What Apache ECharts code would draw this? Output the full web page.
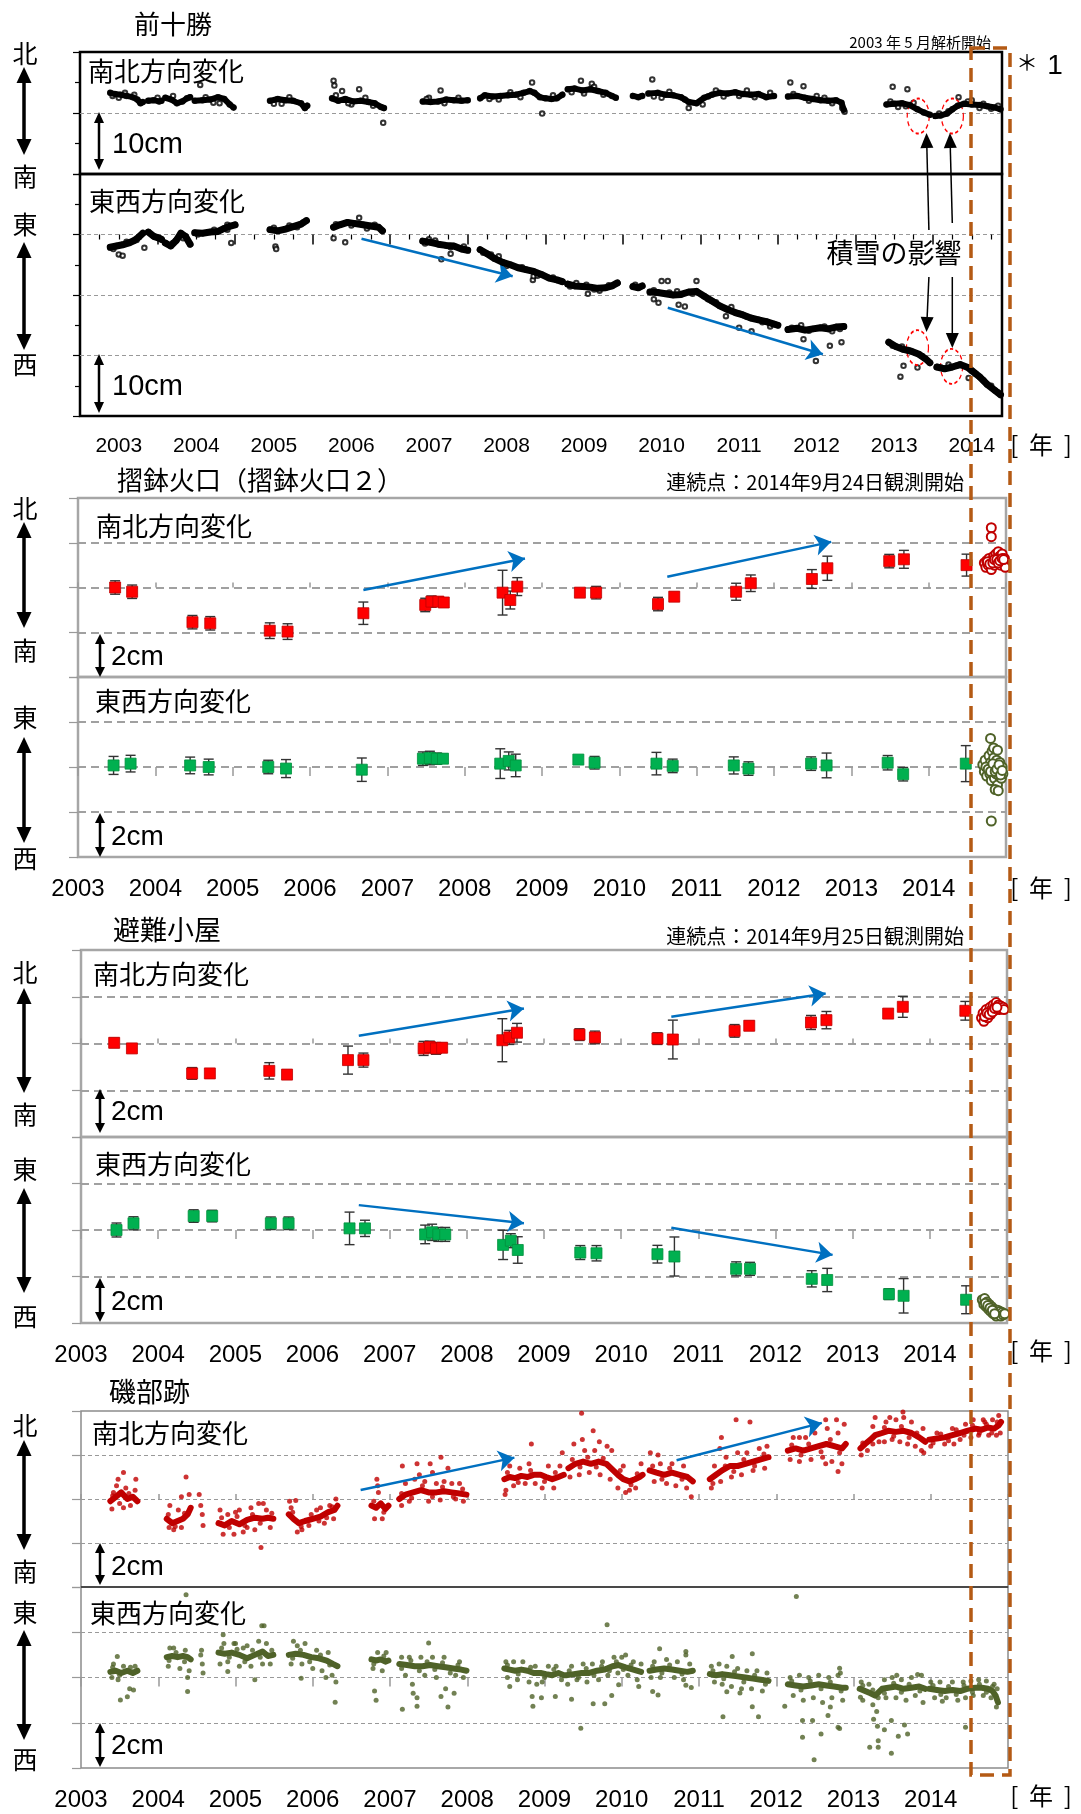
<!DOCTYPE html>
<html>
<head>
<meta charset="utf-8">
<script src="https://cdn.jsdelivr.net/npm/echarts@6/dist/echarts.min.js"></script>
<style>
  html, body { margin: 0; padding: 0; background: #fff; }
  #main { width: 1081px; height: 1814px; }
</style>
</head>
<body>
<div id="main"></div>
<script>
// ---- data (cm, decimal year) ----
const years = [2003, 2004, 2005, 2006, 2007, 2008, 2009, 2010, 2011, 2012, 2013, 2014];
const midYears = [2003.5, 2004.5, 2005.5, 2006.5, 2007.5, 2008.5, 2009.5, 2010.5, 2011.5, 2012.5, 2013.5, 2014.5];

// 前十勝 南北 (band segments + scattered points)
const maeNsCore = [
  [[2003.39,3.3],[2003.45,3.1],[2003.52,3.0],[2003.6,2.8],[2003.68,2.6],[2003.74,2.2],[2003.78,1.6],[2003.81,1.8]],
  [[2003.88,2.0],[2003.95,2.1],[2004.02,1.9],[2004.05,2.0]],
  [[2004.10,2.5],[2004.18,2.2],[2004.25,1.6],[2004.32,1.9],[2004.38,2.4],[2004.42,2.6]],
  [[2004.48,2.0],[2004.58,2.1],[2004.68,2.2],[2004.78,2.6],[2004.86,2.3],[2004.93,1.4],[2004.98,0.9]],
  [[2005.45,2.0],[2005.55,2.3],[2005.65,2.1],[2005.75,2.0],[2005.85,1.6],[2005.9,0.8],[2005.93,1.2]],
  [[2006.25,2.4],[2006.33,2.0],[2006.42,2.3],[2006.52,1.9],[2006.62,2.0],[2006.72,1.8],[2006.8,1.6],[2006.88,1.0],[2006.92,0.8]],
  [[2007.42,1.9],[2007.52,1.8],[2007.62,1.9],[2007.72,2.2],[2007.82,2.1],[2007.92,2.0],[2008.0,2.1]],
  [[2008.16,2.4],[2008.22,2.9],[2008.32,2.7],[2008.42,2.8],[2008.52,2.9],[2008.62,3.0],[2008.72,3.3],[2008.8,3.6],[2008.86,3.3],[2008.93,2.6],[2009.0,2.4],[2009.08,2.3],[2009.15,2.4],[2009.22,3.0]],
  [[2009.29,3.9],[2009.38,4.0],[2009.48,3.7],[2009.58,3.9],[2009.68,3.6],[2009.78,3.3],[2009.86,2.8],[2009.91,2.5]],
  [[2010.13,2.8],[2010.2,2.6],[2010.25,2.8]],
  [[2010.33,3.2],[2010.45,3.3],[2010.55,3.0],[2010.65,2.9],[2010.75,2.6],[2010.85,1.8],[2010.95,1.6],[2011.05,2.5],[2011.15,3.0],[2011.25,3.3],[2011.35,3.2],[2011.45,3.4],[2011.55,3.1],[2011.65,3.0],[2011.75,3.1],[2011.85,2.6],[2011.95,2.8]],
  [[2012.13,2.7],[2012.25,2.8],[2012.35,2.5],[2012.45,2.3],[2012.55,2.1],[2012.65,2.0],[2012.75,2.1],[2012.82,1.7],[2012.85,0.5]],
  [[2013.40,1.4],[2013.5,1.5],[2013.6,1.6],[2013.7,1.3],[2013.8,0.6],[2013.88,0.1],[2013.96,-0.3]],
  [[2014.03,-0.5],[2014.1,-0.4],[2014.18,-0.1],[2014.25,0.6],[2014.32,1.2],[2014.4,1.5],[2014.5,1.4],[2014.6,1.3],[2014.7,1.1],[2014.8,0.9],[2014.87,0.6]]
];
const maeNsPts = [
  [2006.27,5.3],[2006.28,4.5],[2006.6,3.9],[2006.38,3.6],[2006.91,-1.6],[2007.65,3.7],[2008.83,5.0],[2008.96,-0.1],
  [2009.46,5.3],[2009.6,4.8],[2010.38,5.5],[2010.85,0.8],[2011.03,1.4],[2012.16,5.0],[2012.33,4.4],[2012.83,0.8],
  [2012.86,0.2],[2013.48,4.3],[2013.67,3.9],[2014.33,2.6],[2014.5,2.1],[2004.55,4.6],
  [2003.5,2.5],[2003.7,3.0],[2004.2,2.8],[2004.8,1.6],[2005.6,1.5],[2006.5,1.4],[2007.5,2.5],[2008.4,2.2],
  [2009.5,3.2],[2010.5,2.5],[2011.3,2.7],[2011.6,3.7],[2012.5,2.8],[2013.55,1.0],[2014.6,0.8],
  [2003.42,2.8],[2003.58,3.3],[2004.0,2.5],[2004.62,2.6],[2004.72,1.7],[2005.5,1.5],[2005.7,2.6],[2006.3,2.9],[2006.46,1.6],
  [2006.68,2.5],[2006.78,1.2],[2007.47,2.3],[2007.7,1.6],[2007.88,2.5],[2008.28,2.3],[2008.55,3.4],[2008.68,2.6],[2009.1,2.9],
  [2009.34,3.4],[2009.63,4.3],[2009.75,3.0],[2010.4,2.7],[2010.6,3.5],[2010.8,2.2],[2011.1,2.7],[2011.2,3.7],[2011.5,2.8],
  [2011.7,2.6],[2011.9,3.3],[2012.2,3.1],[2012.4,2.0],[2012.6,2.5],[2012.7,1.6],[2013.45,1.9],[2013.65,1.1],[2013.75,1.7],
  [2014.08,-0.1],[2014.2,0.3],[2014.45,1.9],[2014.65,1.5],[2014.75,0.7],[2014.84,1.2]
];

// 前十勝 東西
const maeEwCore = [
  [[2003.39,-2.1],[2003.47,-1.9],[2003.55,-1.7],[2003.63,-1.4],[2003.7,-1.0],[2003.76,-0.4],[2003.81,0.2]],
  [[2003.88,0.4],[2003.95,-0.3],[2004.02,-0.6],[2004.05,-0.8]],
  [[2004.10,-1.4],[2004.17,-1.9],[2004.24,-1.0],[2004.3,0.2],[2004.36,-0.3],[2004.42,-1.6]],
  [[2004.48,0.3],[2004.58,0.2],[2004.68,0.4],[2004.78,0.5],[2004.86,1.0],[2004.94,1.4],[2005.0,1.6]],
  [[2005.45,0.8],[2005.55,0.6],[2005.65,0.9],[2005.75,1.3],[2005.85,1.7],[2005.92,2.3]],
  [[2006.27,1.2],[2006.35,1.6],[2006.45,2.0],[2006.55,1.8],[2006.65,1.6],[2006.75,1.4],[2006.85,1.2],[2006.9,0.6]],
  [[2007.42,-1.1],[2007.52,-1.3],[2007.62,-1.6],[2007.72,-1.8],[2007.82,-1.9],[2007.92,-2.4],[2008.0,-2.6]],
  [[2008.16,-2.5],[2008.25,-3.2],[2008.35,-4.0],[2008.45,-4.6],[2008.55,-5.0],[2008.65,-5.5],[2008.75,-5.8],[2008.85,-6.1],[2008.95,-6.6],[2009.05,-7.2],[2009.15,-7.5],[2009.22,-7.8]],
  [[2009.29,-8.2],[2009.38,-8.5],[2009.48,-8.6],[2009.58,-8.7],[2009.68,-8.9],[2009.78,-8.8],[2009.86,-8.5],[2009.93,-8.0]],
  [[2010.13,-8.6],[2010.2,-8.8],[2010.25,-8.5]],
  [[2010.35,-9.5],[2010.45,-9.6],[2010.55,-9.8],[2010.65,-10.0],[2010.75,-9.9],[2010.85,-9.5],[2010.95,-9.4],[2011.05,-10.2],[2011.15,-11.0],[2011.25,-11.8],[2011.35,-12.4],[2011.45,-12.9],[2011.55,-13.3],[2011.65,-13.8],[2011.75,-14.1],[2011.85,-14.4],[2011.95,-14.8],[2012.0,-15.0]],
  [[2012.13,-15.7],[2012.25,-15.5],[2012.35,-15.8],[2012.45,-15.6],[2012.55,-15.4],[2012.65,-15.6],[2012.75,-15.3],[2012.85,-15.2]],
  [[2013.43,-17.8],[2013.52,-18.5],[2013.62,-19.0],[2013.72,-19.3],[2013.82,-19.8],[2013.9,-20.5],[2013.96,-21.2]],
  [[2014.05,-21.9],[2014.15,-22.2],[2014.25,-21.9],[2014.35,-21.5],[2014.45,-22.0],[2014.5,-22.5],[2014.6,-23.5],[2014.7,-24.8],[2014.8,-25.8],[2014.87,-26.5]]
];
const maeEwPts = [
  [2003.5,-3.3],[2003.55,-3.5],[2003.83,-2.2],[2004.95,-1.4],[2005.52,-2.0],[2005.53,-2.4],[2006.27,-0.6],[2006.42,-1.3],
  [2006.6,2.75],[2007.66,-4.1],[2007.78,-3.2],[2008.84,-7.5],[2008.85,-6.9],[2009.55,-9.8],[2010.4,-10.7],[2010.46,-11.3],
  [2010.5,-7.7],[2010.58,-7.7],[2010.72,-11.6],[2010.8,-11.9],[2010.95,-7.7],[2011.33,-13.5],[2011.5,-15.4],[2011.66,-16.0],
  [2012.33,-17.3],[2012.49,-20.9],[2012.67,-18.4],[2012.82,-17.8],[2013.58,-23.5],[2013.62,-21.7],[2013.8,-22.0],[2014.46,-23.7],
  [2004.9,0.8],[2005.7,1.5],[2006.7,1.0],[2007.5,-0.8],[2008.4,-3.6],[2009.4,-8.0],[2009.7,-9.3],[2010.7,-9.4],
  [2011.4,-12.0],[2011.9,-15.2],[2012.3,-15.0],[2012.7,-16.0],[2013.6,-18.5],[2014.2,-21.5],[2014.75,-25.0],
  [2003.43,-2.4],[2003.6,-1.2],[2003.73,-0.9],[2004.2,-1.4],[2004.33,-0.6],[2004.52,0.0],[2004.73,0.8],[2004.9,1.6],
  [2005.5,1.1],[2005.8,1.2],[2005.88,2.0],[2006.3,1.7],[2006.5,1.5],[2006.8,1.6],[2007.45,-1.5],[2007.58,-1.0],[2007.78,-2.1],
  [2007.95,-2.0],[2008.2,-3.0],[2008.3,-3.3],[2008.5,-5.2],[2008.7,-5.4],[2008.9,-6.8],[2009.1,-7.1],[2009.32,-8.6],
  [2009.53,-8.3],[2009.63,-9.1],[2009.82,-8.4],[2010.16,-8.3],[2010.4,-9.2],[2010.6,-9.6],[2010.9,-9.8],[2011.1,-10.7],
  [2011.2,-11.2],[2011.5,-13.1],[2011.6,-13.6],[2011.8,-14.5],[2012.18,-15.4],[2012.4,-15.9],[2012.6,-15.2],[2012.8,-15.6],
  [2013.48,-18.4],[2013.68,-19.1],[2013.86,-20.1],[2014.1,-22.0],[2014.3,-21.7],[2014.55,-23.0],[2014.65,-24.1],[2014.84,-26.1]
];

// 摺鉢火口 campaign values [year, value, error]
const suriNs = [
  [2003.48,0.0,0.3],[2003.70,-0.19,0.3],[2004.48,-1.55,0.3],[2004.71,-1.6,0.3],[2005.48,-1.93,0.35],[2005.71,-1.97,0.35],
  [2006.69,-1.15,0.5],[2007.49,-0.78,0.3],[2007.57,-0.63,0.25],[2007.66,-0.63,0.2],[2007.73,-0.67,0.2],[2008.49,-0.23,1.0],
  [2008.59,-0.56,0.4],[2008.68,0.04,0.4],[2009.49,-0.23,0.15],[2009.70,-0.23,0.28],[2010.50,-0.74,0.3],[2010.71,-0.41,0.2],
  [2011.51,-0.19,0.38],[2011.70,0.19,0.37],[2012.49,0.38,0.42],[2012.69,0.86,0.54],[2013.49,1.18,0.3],[2013.68,1.26,0.4],[2014.49,1.0,0.49]
];
const suriEw = [
  [2003.46,0.07,0.4],[2003.68,0.15,0.37],[2004.45,0.07,0.37],[2004.69,0.0,0.35],[2005.46,0.0,0.3],[2005.69,-0.07,0.4],
  [2006.67,-0.12,0.52],[2007.46,0.37,0.3],[2007.55,0.4,0.3],[2007.64,0.37,0.25],[2007.72,0.37,0.2],[2008.46,0.15,0.66],
  [2008.57,0.27,0.4],[2008.66,0.07,0.5],[2009.47,0.33,0.15],[2009.68,0.19,0.28],[2010.48,0.15,0.5],[2010.69,0.05,0.3],
  [2011.48,0.07,0.38],[2011.67,-0.07,0.3],[2012.48,0.15,0.3],[2012.68,0.07,0.55],[2013.47,0.19,0.32],[2013.67,-0.32,0.3],[2014.48,0.15,0.8]
];
const suriNsCont = [
  [2014.72,1.1],[2014.74,0.9],[2014.75,1.2],[2014.77,1.0],[2014.78,1.3],[2014.8,1.1],[2014.81,0.8],[2014.82,1.2],[2014.84,1.4],
  [2014.85,1.0],[2014.86,1.3],[2014.87,1.5],[2014.88,1.1],[2014.89,1.3],[2014.9,1.6],[2014.91,1.2],[2014.92,1.4],[2014.93,1.0],
  [2014.94,1.3],[2014.95,1.5],[2014.96,1.2],[2014.97,1.1],[2014.98,1.3],[2014.99,0.9],[2014.81,2.67],[2014.81,2.27],
  [2014.76,1.15],[2014.79,1.05],[2014.83,1.1],[2014.85,1.25],[2014.88,1.25],[2014.9,1.1],[2014.92,1.2],[2014.95,1.3],[2014.97,1.25]
];
const suriEwCont = [
  [2014.7,0.1],[2014.72,-0.2],[2014.73,0.3],[2014.75,-0.4],[2014.76,0.0],[2014.78,0.5],[2014.79,-0.3],[2014.8,0.2],[2014.81,-0.6],
  [2014.82,0.7],[2014.83,-0.1],[2014.84,0.4],[2014.85,-0.5],[2014.86,0.1],[2014.87,-0.3],[2014.88,0.3],[2014.89,-0.8],[2014.9,0.0],
  [2014.91,-0.4],[2014.92,0.2],[2014.93,-0.2],[2014.94,-0.5],[2014.95,0.0],[2014.96,-0.3],[2014.8,1.27],[2014.81,-2.4],
  [2014.84,0.85],[2014.86,-1.0],[2014.89,0.75],[2014.9,-1.05],
  [2014.74,0.0],[2014.77,-0.1],[2014.8,-0.2],[2014.83,0.15],[2014.86,-0.2],[2014.88,-0.1],[2014.91,0.1],[2014.93,-0.35],[2014.95,-0.15]
];

// 避難小屋
const hinanNs = [
  [2003.43,0.03,0.2],[2003.66,-0.21,0.15],[2004.44,-1.28,0.25],[2004.67,-1.28,0.2],[2005.44,-1.17,0.35],[2005.67,-1.33,0.2],
  [2006.46,-0.71,0.6],[2006.66,-0.71,0.3],[2007.44,-0.21,0.3],[2007.52,-0.15,0.25],[2007.6,-0.21,0.25],[2007.68,-0.18,0.2],
  [2008.46,0.14,0.92],[2008.55,0.26,0.3],[2008.65,0.46,0.4],[2009.46,0.38,0.25],[2009.66,0.26,0.27],[2010.47,0.21,0.25],
  [2010.67,0.17,0.83],[2011.47,0.54,0.27],[2011.66,0.76,0.2],[2012.46,0.9,0.3],[2012.66,1.0,0.37],[2013.46,1.28,0.15],
  [2013.65,1.57,0.45],[2014.46,1.4,0.4]
];
const hinanEw = [
  [2003.46,0.0,0.3],[2003.68,0.29,0.28],[2004.46,0.6,0.27],[2004.70,0.6,0.25],[2005.46,0.29,0.27],[2005.69,0.29,0.27],
  [2006.48,0.07,0.7],[2006.68,0.07,0.35],[2007.46,-0.19,0.4],[2007.55,-0.1,0.35],[2007.63,-0.19,0.3],[2007.72,-0.19,0.3],
  [2008.47,-0.64,0.63],[2008.57,-0.46,0.3],[2008.66,-0.86,0.57],[2009.47,-0.97,0.3],[2009.68,-1.0,0.33],[2010.47,-1.04,0.38],
  [2010.69,-1.14,0.84],[2011.49,-1.67,0.3],[2011.67,-1.67,0.28],[2012.47,-2.1,0.35],[2012.67,-2.15,0.5],[2013.47,-2.76,0.23],
  [2013.66,-2.83,0.74],[2014.47,-3.0,0.6]
];
const hinanNsCont = [
  [2014.67,1.1],[2014.69,1.3],[2014.7,0.95],[2014.72,1.2],[2014.73,1.45],[2014.75,1.1],[2014.76,1.35],[2014.78,1.55],[2014.79,1.25],
  [2014.8,1.45],[2014.82,1.65],[2014.83,1.4],[2014.85,1.6],[2014.86,1.75],[2014.88,1.5],[2014.89,1.65],[2014.9,1.45],[2014.92,1.6],
  [2014.93,1.5],[2014.95,1.55],[2014.96,1.45],[2014.71,1.15],[2014.74,1.3],[2014.77,1.25],[2014.81,1.35],[2014.84,1.5],[2014.87,1.55]
];
const hinanEwCont = [
  [2014.68,-3.0],[2014.7,-3.2],[2014.71,-2.95],[2014.73,-3.3],[2014.74,-3.1],[2014.76,-3.4],[2014.77,-3.2],[2014.79,-3.5],[2014.8,-3.3],
  [2014.82,-3.6],[2014.83,-3.4],[2014.85,-3.5],[2014.86,-3.7],[2014.88,-3.45],[2014.89,-3.6],[2014.91,-3.5],[2014.92,-3.7],
  [2014.94,-3.55],[2014.95,-3.65],[2014.97,-3.6],[2014.72,-3.15],[2014.75,-3.25],[2014.78,-3.35],[2014.81,-3.45],[2014.84,-3.6]
];

// 磯部跡 南北
const isoNsCore = [
  [[2003.38,-0.1],[2003.45,0.1],[2003.52,0.3],[2003.6,0.0],[2003.67,0.1],[2003.73,-0.1]],
  [[2004.11,-0.9],[2004.18,-1.1],[2004.25,-1.0],[2004.32,-0.9],[2004.38,-0.7],[2004.42,-0.4]],
  [[2004.78,-1.1],[2004.86,-1.2],[2004.95,-1.0],[2005.05,-1.15],[2005.15,-0.95],[2005.25,-0.85],[2005.35,-0.9],[2005.42,-0.85],[2005.49,-0.9]],
  [[2005.69,-0.7],[2005.75,-0.9],[2005.82,-1.1],[2005.9,-1.0],[2006.0,-0.9],[2006.1,-0.8],[2006.2,-0.6],[2006.28,-0.5],[2006.32,-0.3]],
  [[2006.76,-0.3],[2006.82,-0.4],[2006.88,-0.2],[2006.94,-0.45],[2006.98,-0.3]],
  [[2007.12,0.0],[2007.2,0.2],[2007.3,0.3],[2007.4,0.4],[2007.5,0.3],[2007.6,0.3],[2007.7,0.35],[2007.8,0.3],[2007.9,0.25],[2007.99,0.2]],
  [[2008.48,0.9],[2008.55,1.0],[2008.62,0.95],[2008.7,1.05],[2008.78,1.0],[2008.86,1.1],[2008.95,1.1],[2009.02,1.0],[2009.1,0.9],[2009.18,1.0],[2009.25,1.1]],
  [[2009.31,1.4],[2009.4,1.6],[2009.5,1.7],[2009.6,1.6],[2009.7,1.7],[2009.8,1.6],[2009.89,1.3],[2009.95,1.1],[2010.02,0.9],[2010.1,0.8],[2010.17,0.9],[2010.23,1.0],[2010.27,1.1]],
  [[2010.36,1.3],[2010.45,1.2],[2010.55,1.1],[2010.65,1.2],[2010.75,1.1],[2010.85,1.0],[2010.92,0.8]],
  [[2011.14,0.9],[2011.22,1.1],[2011.3,1.3],[2011.4,1.5],[2011.5,1.5],[2011.6,1.6],[2011.7,1.7],[2011.8,1.8],[2011.9,1.9]],
  [[2012.15,2.2],[2012.25,2.3],[2012.35,2.2],[2012.45,2.3],[2012.55,2.4],[2012.65,2.5],[2012.75,2.4],[2012.85,2.3],[2012.9,2.5]],
  [[2013.09,2.3],[2013.15,2.5],[2013.22,2.7],[2013.28,2.9],[2013.37,3.0],[2013.45,3.1],[2013.55,3.05],[2013.65,3.1],[2013.75,3.0],[2013.85,2.8],[2013.93,2.6]],
  [[2013.98,2.7],[2014.08,2.75],[2014.18,2.8],[2014.28,2.9],[2014.38,3.0],[2014.47,3.1],[2014.58,3.2],[2014.66,3.15],[2014.74,3.25],[2014.82,3.2],[2014.88,3.35],[2014.91,3.5]]
];
const isoNsPts = [
  [2003.4,-0.45],[2003.46,0.6],[2003.48,0.9],[2003.55,1.2],[2003.55,-0.4],[2003.58,0.5],[2003.64,-0.3],[2003.71,0.9],[2003.7,0.4],[2003.42,0.3],
  [2004.15,-0.3],[2004.2,-1.4],[2004.3,-1.3],[2004.3,0.1],[2004.36,1.0],[2004.4,0.2],[2004.14,-1.3],[2004.26,-0.5],
  [2004.53,0.2],[2004.55,-0.3],[2004.57,-0.7],[2004.58,-1.2],
  [2004.8,-0.5],[2004.84,-1.6],[2004.9,-0.7],[2004.98,-1.6],[2005.05,-0.5],[2005.1,-1.5],[2005.2,-0.4],[2005.25,-1.4],[2005.3,-0.2],
  [2005.36,-0.2],[2005.33,-2.2],[2005.4,-0.5],[2005.45,-1.3],[2005.0,-0.6],[2005.15,-1.3],
  [2005.7,-0.1],[2005.72,-0.4],[2005.78,-0.07],[2005.8,-1.5],[2005.86,-1.4],[2005.95,-1.2],[2006.05,-0.5],[2006.15,-1.1],[2006.22,-0.3],
  [2006.27,-0.9],[2006.3,0.0],[2006.1,-0.4],
  [2006.8,-0.9],[2006.85,0.3],[2006.9,-0.9],[2006.83,0.9],[2006.84,0.6],
  [2007.15,-0.3],[2007.2,0.7],[2007.25,-0.1],[2007.32,0.9],[2007.38,1.1],[2007.45,0.8],[2007.5,-0.1],[2007.55,1.2],[2007.6,0.7],
  [2007.65,-0.05],[2007.7,0.8],[2007.75,1.4],[2007.8,0.7],[2007.85,0.0],[2007.9,0.7],[2007.95,-0.1],[2007.16,1.5],[2007.35,1.6],
  [2007.66,1.9],[2007.52,1.6],
  [2008.49,0.2],[2008.5,0.4],[2008.55,1.5],[2008.6,0.6],[2008.68,1.4],[2008.75,0.7],[2008.8,1.6],[2008.88,0.7],[2008.83,2.5],
  [2008.97,0.5],[2009.05,1.5],[2009.12,0.5],[2009.2,1.5],[2009.23,2.1],
  [2009.33,1.0],[2009.38,2.5],[2009.45,1.1],[2009.49,2.7],[2009.52,2.2],[2009.58,1.2],[2009.63,3.1],[2009.65,2.2],[2009.72,1.1],
  [2009.71,2.6],[2009.81,2.4],[2009.85,0.9],[2009.48,3.9],[2009.87,2.2],
  [2009.95,0.5],[2010.02,1.5],[2010.1,0.4],[2010.18,0.5],[2010.25,1.6],[2010.05,0.3],
  [2010.37,2.1],[2010.42,0.8],[2010.5,1.6],[2010.58,0.7],[2010.65,1.6],[2010.7,0.6],[2010.8,1.5],[2010.84,0.5],[2010.9,0.1],[2010.47,2.0],
  [2011.16,0.5],[2011.2,1.5],[2011.27,2.3],[2011.29,2.8],[2011.28,0.8],[2011.35,1.9],[2011.42,1.0],[2011.48,3.6],[2011.5,2.1],
  [2011.55,1.1],[2011.62,2.1],[2011.66,3.5],[2011.7,1.3],[2011.78,2.3],[2011.85,1.4],[2011.88,2.4],
  [2012.18,1.8],[2012.22,2.8],[2012.3,1.7],[2012.38,2.8],[2012.45,1.8],[2012.5,3.0],[2012.6,1.9],[2012.64,1.6],[2012.66,3.2],
  [2012.72,1.7],[2012.8,3.0],[2012.8,1.25],[2012.85,1.6],[2012.88,3.4],[2012.78,3.6],[2012.64,3.6],[2012.3,2.8],
  [2013.1,2.0],[2013.18,2.2],[2013.25,3.3],[2013.28,3.7],[2013.33,2.6],
  [2013.4,2.6],[2013.42,3.5],[2013.5,2.7],[2013.55,3.6],[2013.6,2.6],[2013.64,3.96],[2013.65,3.7],[2013.7,2.5],[2013.75,3.5],
  [2013.8,2.4],[2013.88,2.2],[2013.91,2.1],[2013.9,3.2],[2013.47,3.7],
  [2014.0,2.4],[2014.08,3.0],[2014.18,2.5],[2014.28,3.2],[2014.38,2.7],[2014.45,3.4],[2014.3,2.5],
  [2014.52,2.8],[2014.55,3.6],[2014.62,2.9],[2014.68,3.6],[2014.75,2.9],[2014.8,3.6],[2014.85,2.9],[2014.88,3.8],[2014.9,3.0],[2014.7,3.5],
  [2003.41,0.15],[2003.5,-0.2],[2003.62,0.25],[2004.13,-0.7],[2004.22,-1.25],[2004.34,-0.65],[2004.82,-0.85],[2004.92,-1.3],
  [2005.02,-0.8],[2005.12,-1.2],[2005.22,-0.7],[2005.32,-1.1],[2005.47,-0.65],[2005.74,-0.6],[2005.85,-1.25],[2005.98,-0.7],
  [2006.08,-1.0],[2006.18,-0.85],[2006.25,-0.35],[2006.79,-0.1],[2006.92,-0.6],[2007.15,0.25],[2007.28,0.05],[2007.42,0.6],
  [2007.55,0.1],[2007.68,0.55],[2007.82,0.1],[2007.94,0.45],[2008.52,1.2],[2008.66,0.75],[2008.82,1.3],[2009.0,0.8],[2009.14,1.2],
  [2009.36,1.8],[2009.46,1.45],[2009.56,1.9],[2009.67,1.45],[2009.76,1.85],[2009.98,1.3],[2010.12,0.65],[2010.2,1.15],[2010.4,1.5],
  [2010.52,0.9],[2010.62,1.4],[2010.78,0.9],[2011.18,0.7],[2011.34,1.5],[2011.45,1.25],[2011.58,1.8],[2011.72,1.5],[2011.84,2.05],
  [2012.2,2.45],[2012.32,2.0],[2012.42,2.5],[2012.58,2.15],[2012.7,2.7],[2012.82,2.1],[2013.12,2.55],[2013.25,2.5],[2013.4,3.25],
  [2013.52,2.85],[2013.62,3.3],[2013.72,2.8],[2013.82,3.0],[2014.03,2.55],[2014.13,2.95],[2014.23,2.65],[2014.33,3.15],
  [2014.43,2.9],[2014.54,3.35],[2014.63,3.0],[2014.72,3.4],[2014.79,3.0],[2014.86,3.5]
];

// 磯部跡 東西
const isoEwCore = [
  [[2003.38,0.25],[2003.45,0.3],[2003.52,0.2],[2003.6,0.3],[2003.67,0.2],[2003.73,0.3]],
  [[2004.11,0.9],[2004.18,0.95],[2004.25,0.9],[2004.32,0.95],[2004.38,0.9],[2004.42,0.8]],
  [[2004.78,1.1],[2004.86,1.05],[2004.95,1.1],[2005.05,1.0],[2005.15,0.85],[2005.25,1.0],[2005.35,1.15],[2005.42,0.95],[2005.49,1.0]],
  [[2005.69,1.0],[2005.78,1.05],[2005.88,1.0],[2005.98,0.9],[2006.08,0.85],[2006.18,0.75],[2006.26,0.6],[2006.32,0.5]],
  [[2006.76,0.8],[2006.82,0.75],[2006.88,0.8],[2006.94,0.7],[2006.98,0.75]],
  [[2007.12,0.6],[2007.22,0.55],[2007.32,0.5],[2007.42,0.5],[2007.52,0.55],[2007.62,0.5],[2007.72,0.45],[2007.82,0.4],[2007.92,0.35],[2007.99,0.3]],
  [[2008.48,0.4],[2008.55,0.35],[2008.62,0.3],[2008.7,0.35],[2008.78,0.3],[2008.86,0.2],[2008.95,0.2],[2009.02,0.15],[2009.1,0.1],[2009.18,0.2],[2009.25,0.1],
   [2009.28,0.1],[2009.38,0.15],[2009.48,0.2],[2009.58,0.2],[2009.68,0.3],[2009.78,0.35],[2009.88,0.5],[2009.96,0.55],[2010.05,0.45],[2010.15,0.35],[2010.25,0.25]],
  [[2010.36,0.3],[2010.45,0.35],[2010.55,0.4],[2010.65,0.35],[2010.75,0.3],[2010.85,0.25],[2010.92,0.3]],
  [[2011.14,0.15],[2011.22,0.1],[2011.3,0.15],[2011.4,0.1],[2011.5,0.05],[2011.6,0.0],[2011.7,-0.05],[2011.8,-0.1],[2011.9,-0.15]],
  [[2012.15,-0.3],[2012.25,-0.35],[2012.35,-0.4],[2012.45,-0.35],[2012.55,-0.3],[2012.65,-0.35],[2012.75,-0.4],[2012.85,-0.45],[2012.9,-0.45]],
  [[2013.08,-0.5],[2013.15,-0.6],[2013.22,-0.7],[2013.28,-0.8],[2013.37,-0.5],[2013.45,-0.45],[2013.55,-0.4],[2013.65,-0.5],[2013.75,-0.45],[2013.85,-0.4],[2013.93,-0.5]],
  [[2013.98,-0.5],[2014.08,-0.55],[2014.18,-0.6],[2014.28,-0.55],[2014.38,-0.6],[2014.47,-0.5],[2014.58,-0.45],[2014.66,-0.45],[2014.74,-0.5],[2014.8,-0.6],[2014.84,-0.8],[2014.87,-1.1]]
];
const isoEwPts = [
  [2003.42,0.6],[2003.47,0.93],[2003.48,-0.1],[2003.55,0.5],[2003.51,-0.99],[2003.6,-0.85],[2003.68,-0.55],[2003.63,-0.5],[2003.7,0.5],[2003.4,0.0],
  [2004.13,0.5],[2004.2,1.3],[2004.28,0.4],[2004.35,1.2],[2004.4,0.3],[2004.38,0.0],[2004.36,3.66],[2004.38,-0.62],[2004.15,1.3],
  [2004.55,1.0],[2004.57,0.6],[2004.58,0.2],[2004.56,1.2],
  [2004.8,0.6],[2004.85,1.5],[2004.84,1.89],[2004.9,0.7],[2004.9,0.27],[2004.98,1.5],[2005.05,0.5],[2005.1,1.3],[2005.2,0.5],[2005.25,-0.1],
  [2005.3,1.6],[2005.35,0.6],[2005.4,1.5],[2005.45,0.6],[2005.34,2.29],[2005.37,2.29],[2005.0,1.5],[2005.15,1.4],
  [2005.72,0.6],[2005.8,1.4],[2005.86,0.6],[2005.85,-0.03],[2005.9,1.5],[2006.0,0.4],[2006.05,1.2],[2006.12,0.3],[2006.17,0.0],
  [2006.2,1.1],[2006.25,0.1],[2006.3,-0.2],[2006.29,-1.09],[2005.75,1.6],
  [2006.78,0.4],[2006.84,1.1],[2006.9,0.3],[2006.8,-0.6],[2006.82,-1.0],[2006.95,1.1],
  [2007.15,0.9],[2007.2,0.1],[2007.29,-0.3],[2007.3,-0.7],[2007.35,-0.9],[2007.16,-1.4],[2007.35,-1.27],[2007.4,0.9],[2007.45,0.1],
  [2007.5,1.52],[2007.55,0.9],[2007.6,0.0],[2007.66,-0.84],[2007.7,0.9],[2007.72,-0.5],[2007.75,-1.3],[2007.83,-0.7],[2007.85,0.1],
  [2007.9,0.7],[2007.95,0.0],[2007.25,0.9],
  [2008.5,0.7],[2008.52,0.0],[2008.6,0.7],[2008.65,-0.1],[2008.72,0.7],[2008.8,-0.2],[2008.88,0.5],[2008.84,-0.84],[2008.85,-1.27],
  [2008.9,-0.3],[2008.55,-0.4],
  [2008.97,-0.2],[2009.05,0.5],[2008.96,-0.9],[2009.14,-0.84],[2009.15,0.5],[2009.22,-0.1],
  [2009.3,-0.3],[2009.35,0.5],[2009.42,-0.1],[2009.5,0.6],[2009.55,-0.2],[2009.62,0.6],[2009.7,-0.1],[2009.75,0.7],[2009.82,0.1],
  [2009.9,0.9],[2009.95,0.2],[2010.0,0.9],[2010.08,0.1],[2010.15,0.7],[2010.2,-0.1],[2010.25,0.6],[2009.35,-0.96],[2009.47,-2.24],
  [2009.81,2.33],[2009.63,-1.16],[2009.78,-1.16],[2009.87,-0.8],[2009.96,-0.32],[2010.22,-0.4],[2010.05,1.0],
  [2010.38,0.0],[2010.42,0.7],[2010.5,0.0],[2010.58,0.8],[2010.68,0.0],[2010.72,0.7],[2010.8,-0.1],[2010.88,0.6],[2010.49,1.27],
  [2010.83,1.15],[2010.83,1.0],[2010.4,-0.62],[2010.47,-0.77],[2010.83,-0.34],[2010.9,-0.44],
  [2011.16,0.5],[2011.2,-0.2],[2011.26,0.6],[2011.3,-0.3],[2011.36,0.5],[2011.42,-0.4],[2011.5,0.4],[2011.55,-0.5],[2011.62,0.3],
  [2011.68,-0.5],[2011.75,0.3],[2011.82,-0.6],[2011.88,0.2],[2011.43,0.93],[2011.69,1.05],[2011.31,-1.73],[2011.69,-1.29],
  [2011.77,-1.73],[2011.53,-0.69],[2011.36,-0.63],
  [2012.18,0.0],[2012.22,-0.8],[2012.3,0.1],[2012.35,-1.0],[2012.42,0.0],[2012.48,-0.9],[2012.55,0.1],[2012.6,-1.1],[2012.68,0.0],
  [2012.72,-0.9],[2012.8,0.1],[2012.86,-1.0],[2012.26,3.58],[2012.49,-3.64],[2012.34,-2.64],[2012.47,-1.9],[2012.67,-1.68],
  [2012.8,-2.2],[2012.82,-2.25],[2012.82,0.41],[2012.83,0.2],[2012.11,-1.27],[2012.34,-1.9],[2012.58,-2.5],[2012.7,-1.3],
  [2013.1,-0.2],[2013.12,-1.0],[2013.09,-0.87],[2013.2,-0.3],[2013.25,-1.2],[2013.3,-1.5],[2013.32,-0.9],[2013.26,-1.85],
  [2013.31,-2.15],[2013.21,-3.08],[2013.32,-3.08],[2013.32,-2.8],
  [2013.4,-0.1],[2013.42,-0.9],[2013.5,0.0],[2013.55,-0.9],[2013.62,-0.1],[2013.68,-1.0],[2013.75,0.0],[2013.8,-0.8],[2013.88,0.1],
  [2013.9,-1.1],[2013.56,0.1],[2013.83,0.13],[2013.49,-3.35],[2013.4,-2.31],[2013.49,-1.9],[2013.58,-2.6],[2013.7,-2.5],[2013.66,-2.1],
  [2014.0,-0.2],[2014.05,-0.9],[2014.12,-0.2],[2014.2,-0.9],[2014.28,-0.2],[2014.35,-1.0],[2014.42,-0.2],[2014.45,-0.9],[2014.45,-2.2],
  [2014.15,-1.05],
  [2014.52,-0.15],[2014.55,-0.8],[2014.62,-0.1],[2014.68,-0.8],[2014.72,-0.15],[2014.78,-0.9],[2014.82,-0.3],[2014.85,-1.3],[2014.86,-0.5],
  [2003.41,0.45],[2003.5,0.1],[2003.64,0.45],[2004.14,0.75],[2004.23,1.1],[2004.34,0.7],[2004.82,1.3],[2004.92,0.9],[2005.02,1.25],
  [2005.12,0.7],[2005.22,1.2],[2005.32,0.9],[2005.47,1.2],[2005.74,0.85],[2005.84,1.2],[2005.96,0.7],[2006.1,1.0],[2006.22,0.55],
  [2006.79,0.6],[2006.92,0.95],[2007.15,0.4],[2007.27,0.75],[2007.38,0.3],[2007.48,0.7],[2007.58,0.35],[2007.68,0.65],[2007.78,0.2],
  [2007.88,0.55],[2008.52,0.55],[2008.66,0.15],[2008.82,0.45],[2009.0,0.0],[2009.12,0.35],[2009.32,0.3],[2009.44,0.0],[2009.54,0.4],
  [2009.64,0.1],[2009.74,0.5],[2009.84,0.3],[2009.93,0.7],[2010.02,0.35],[2010.12,0.55],[2010.4,0.5],[2010.52,0.2],[2010.62,0.55],
  [2010.78,0.15],[2011.18,0.3],[2011.32,-0.05],[2011.46,0.25],[2011.58,-0.2],[2011.72,0.1],[2011.86,-0.3],[2012.2,-0.15],
  [2012.32,-0.55],[2012.44,-0.15],[2012.58,-0.5],[2012.7,-0.2],[2012.84,-0.6],[2013.12,-0.35],[2013.25,-0.55],[2013.4,-0.7],
  [2013.52,-0.25],[2013.62,-0.65],[2013.72,-0.3],[2013.86,-0.6],[2014.03,-0.35],[2014.13,-0.75],[2014.23,-0.4],[2014.33,-0.75],
  [2014.43,-0.35],[2014.54,-0.65],[2014.63,-0.3],[2014.72,-0.65],[2014.8,-0.4]
];

// trend arrows (data coordinates) and snow-effect marks
const maeEwArrows = [[[2006.63,-0.7],[2008.58,-6.9]], [[2010.58,-12.1],[2012.58,-19.8]]];
const suriNsArrows = [[[2006.69,-0.11],[2008.78,1.3]], [[2010.62,0.48],[2012.74,2.04]]];
const hinanNsArrows = [[[2006.6,0.33],[2008.74,1.5]], [[2010.65,1.14],[2012.65,2.14]]];
const hinanEwArrows = [[[2006.6,1.07],[2008.74,0.29]], [[2010.65,0.1],[2012.74,-1.07]]];
const isoNsArrows = [[[2006.62,0.41],[2008.61,1.88]], [[2010.71,1.76],[2012.59,3.46]]];
const snowNs = [[2013.81,-0.5],[2014.25,-0.5]];
const snowEw = [[2013.8,-18.7],[2014.24,-21.8]];

// ---- chart ----
const JP = '"Noto Sans CJK JP", sans-serif';
const NUM = '"Liberation Sans", Arial, sans-serif';
const chart = echarts.init(document.getElementById('main'));

const grids = [
  { left: 80, top: 52, width: 922, height: 122, show: true, borderColor: '#000', borderWidth: 2.5 },
  { left: 80, top: 174, width: 922, height: 242, show: true, borderColor: '#000', borderWidth: 2.5 },
  { left: 78, top: 498, width: 928, height: 179, show: true, borderColor: '#a6a6a6', borderWidth: 2.5 },
  { left: 78, top: 677, width: 928, height: 180, show: true, borderColor: '#a6a6a6', borderWidth: 2.5 },
  { left: 81, top: 950, width: 926, height: 187, show: true, borderColor: '#a6a6a6', borderWidth: 2.5 },
  { left: 81, top: 1137, width: 926, height: 186, show: true, borderColor: '#a6a6a6', borderWidth: 2.5 },
  { left: 81, top: 1411, width: 927, height: 176, show: true, borderColor: '#8c8c8c', borderWidth: 1.5 },
  { left: 81, top: 1587, width: 927, height: 181, show: true, borderColor: '#8c8c8c', borderWidth: 1.5 }
];

function xAx(i) {
  const a = { type: 'value', gridIndex: i, min: 2003, max: i < 2 ? 2014.89 : 2015, interval: 1,
    axisLine: { show: false }, splitLine: { show: false }, axisLabel: { show: false }, axisTick: { show: false } };
  if (i === 1) {
    a.axisTick = { show: true, length: 10, lineStyle: { color: '#000', width: 1.5 } };
    a.minorTick = { show: true, splitNumber: 4, length: 5, lineStyle: { color: '#000', width: 1.2 } };
    a.axisLabel = { show: true, customValues: midYears, formatter: v => String(Math.floor(v)),
      fontSize: 21, fontFamily: '"Liberation Sans Narrow", ' + NUM, color: '#000', margin: 20 };
  } else if (i >= 2 && i % 2 === 0) {
    a.axisTick = { show: true, inside: true, length: 5, lineStyle: { color: '#999', width: 1.5 } };
  } else if (i >= 2) {
    a.axisTick = { show: true, length: 9, lineStyle: { color: '#999', width: 1.5 } };
    a.axisLabel = { show: true, fontSize: 24, fontFamily: NUM, color: '#000', margin: 20,
      showMaxLabel: false, formatter: v => String(v) };
  }
  return a;
}
function yAx(i) {
  const big = i < 2;
  const dash = (i === 0 || i === 1 || i >= 6) ? { color: '#999', width: 1, type: [4, 3] }
                                              : { color: '#a0a0a0', width: 2, type: [8, 5] };
  const a = { type: 'value', gridIndex: i,
    min: i === 0 ? -10 : (i === 1 ? -30 : -4), max: i === 0 ? 10 : (i === 1 ? 10 : 4),
    interval: big ? 10 : 2,
    axisLine: { show: false }, axisLabel: { show: false },
    axisTick: { show: true, length: big ? 7 : 9, lineStyle: { color: big ? '#000' : '#999', width: 1.2 } },
    splitLine: { show: true, showMinLine: false, showMaxLine: false, lineStyle: dash } };
  if (big) a.minorTick = { show: true, splitNumber: 2, length: 5, lineStyle: { color: '#000', width: 1.2 } };
  return a;
}

const series = [];
function band(segs, gi, color, width, z) {
  segs.forEach(s => series.push({ type: 'line', xAxisIndex: gi, yAxisIndex: gi, data: s, symbol: 'none',
    lineStyle: { color: color, width: width, cap: 'round', join: 'round' }, silent: true, z: z || 2 }));
}
function arrowLines(list) {
  return { silent: true, symbol: ['none', 'arrow'], symbolSize: 16, label: { show: false },
    lineStyle: { color: '#0070c0', width: 2.5, type: 'solid' }, emphasis: { disabled: true },
    data: list.map(a => [{ coord: a[0] }, { coord: a[1] }]) };
}
function ellipses(list) {
  return { silent: true, label: { show: false },
    data: list.map(c => ({ coord: c, symbol: 'circle', symbolSize: [22, 35],
      itemStyle: { color: 'rgba(0,0,0,0)', borderColor: '#ff0000', borderWidth: 1.5, borderType: [4, 3] } })) };
}
function errBars(data, gi) {
  series.push({ type: 'custom', xAxisIndex: gi, yAxisIndex: gi, z: 3, silent: true,
    data: data.map(d => [d[0], d[1] - d[2], d[1] + d[2]]),
    encode: { x: 0, y: [1, 2] },
    renderItem: (params, api) => {
      const x = api.value(0);
      const lo = api.coord([x, api.value(1)]), hi = api.coord([x, api.value(2)]);
      const c = 5, st = { stroke: '#333', lineWidth: 1.4 };
      return { type: 'group', children: [
        { type: 'line', shape: { x1: lo[0], y1: lo[1], x2: hi[0], y2: hi[1] }, style: st },
        { type: 'line', shape: { x1: lo[0] - c, y1: lo[1], x2: lo[0] + c, y2: lo[1] }, style: st },
        { type: 'line', shape: { x1: hi[0] - c, y1: hi[1], x2: hi[0] + c, y2: hi[1] }, style: st } ] };
    } });
}
function squares(data, gi, color, border, arrows) {
  const s = { type: 'scatter', xAxisIndex: gi, yAxisIndex: gi, z: 4, silent: true,
    data: data.map(d => [d[0], d[1]]), symbol: 'rect', symbolSize: 11,
    itemStyle: { color: color, borderColor: border, borderWidth: 0.8, opacity: 1 } };
  if (arrows) s.markLine = arrowLines(arrows);
  series.push(s);
}
function cloud(data, gi, color) {
  series.push({ type: 'scatter', xAxisIndex: gi, yAxisIndex: gi, z: 4, silent: true, data: data,
    symbol: 'emptyCircle', symbolSize: 9, itemStyle: { color: color, borderColor: color, borderWidth: 3.2, opacity: 1 } });
}

// 前十勝: open circles under a solid black band
series.push({ type: 'scatter', xAxisIndex: 0, yAxisIndex: 0, z: 3, silent: true,
  data: maeNsCore.flat().concat(maeNsPts), symbol: 'emptyCircle', symbolSize: 4.5,
  itemStyle: { color: '#000', borderColor: '#000', borderWidth: 1.2 }, markPoint: ellipses(snowNs) });
band(maeNsCore, 0, '#000', 6, 5);
series.push({ type: 'scatter', xAxisIndex: 1, yAxisIndex: 1, z: 3, silent: true,
  data: maeEwCore.flat().concat(maeEwPts), symbol: 'emptyCircle', symbolSize: 4.5,
  itemStyle: { color: '#000', borderColor: '#000', borderWidth: 1.2 },
  markLine: arrowLines(maeEwArrows), markPoint: ellipses(snowEw) });
band(maeEwCore, 1, '#000', 7, 5);

// 摺鉢火口
errBars(suriNs, 2); squares(suriNs, 2, '#ff0000', '#c00000', suriNsArrows); cloud(suriNsCont, 2, '#c00000');
errBars(suriEw, 3); squares(suriEw, 3, '#00b050', '#00903c', null); cloud(suriEwCont, 3, '#4f6228');
// 避難小屋
errBars(hinanNs, 4); squares(hinanNs, 4, '#ff0000', '#c00000', hinanNsArrows); cloud(hinanNsCont, 4, '#c00000');
errBars(hinanEw, 5); squares(hinanEw, 5, '#00b050', '#00903c', hinanEwArrows); cloud(hinanEwCont, 5, '#4f6228');
// 磯部跡
band(isoNsCore, 6, '#c00000', 6);
series.push({ type: 'scatter', xAxisIndex: 6, yAxisIndex: 6, z: 4, silent: true, data: isoNsPts,
  symbol: 'circle', symbolSize: 5, itemStyle: { color: '#c00000' }, markLine: arrowLines(isoNsArrows) });
band(isoEwCore, 7, '#4f6228', 6);
series.push({ type: 'scatter', xAxisIndex: 7, yAxisIndex: 7, z: 4, silent: true, data: isoEwPts,
  symbol: 'circle', symbolSize: 5, itemStyle: { color: '#4f6228' } });

// ---- annotations (pixel layout) ----
const G = [];
function txt(s, x, y, size, align, font) {
  G.push({ type: 'text', x: x, y: y, z: 100, silent: true,
    style: { text: s, fill: '#000', font: size + 'px ' + (font || JP),
      textAlign: align || 'left', textVerticalAlign: 'middle', align: align || 'left', verticalAlign: 'middle' } });
}
function vArrow(x, y1, y2, lw, hw, hl) {
  G.push({ type: 'group', z: 100, silent: true, children: [
    { type: 'line', z: 100, shape: { x1: x, y1: y1 + hl - 1, x2: x, y2: y2 - hl + 1 }, style: { stroke: '#000', lineWidth: lw } },
    { type: 'polygon', z: 100, shape: { points: [[x, y1], [x - hw / 2, y1 + hl], [x + hw / 2, y1 + hl]] }, style: { fill: '#000' } },
    { type: 'polygon', z: 100, shape: { points: [[x, y2], [x - hw / 2, y2 - hl], [x + hw / 2, y2 - hl]] }, style: { fill: '#000' } } ] });
}
function pArrow(x1, y1, x2, y2, hw, hl) {
  const dx = x2 - x1, dy = y2 - y1, L = Math.hypot(dx, dy), ux = dx / L, uy = dy / L;
  const bx = x2 - ux * hl, by = y2 - uy * hl;
  G.push({ type: 'group', z: 100, silent: true, children: [
    { type: 'line', z: 100, shape: { x1: x1, y1: y1, x2: bx, y2: by }, style: { stroke: '#000', lineWidth: 1.5 } },
    { type: 'polygon', z: 100, shape: { points: [[x2, y2], [bx - uy * hw / 2, by + ux * hw / 2], [bx + uy * hw / 2, by - ux * hw / 2]] }, style: { fill: '#000' } } ] });
}

// station titles
txt('前十勝', 134, 24, 26);
txt('摺鉢火口（摺鉢火口２）', 117, 480, 26);
txt('避難小屋', 113, 930, 27);
txt('磯部跡', 109, 1392, 27);
// component labels
[[88, 71, '南北方向変化'], [89, 201, '東西方向変化'], [96, 526, '南北方向変化'], [95, 701, '東西方向変化'],
 [93, 974, '南北方向変化'], [95, 1164, '東西方向変化'], [92, 1433, '南北方向変化'], [90, 1613, '東西方向変化']]
  .forEach(p => txt(p[2], p[0], p[1], 26));
// direction letters and arrows
[[53, '北'], [176, '南'], [224, '東'], [364, '西'], [508, '北'], [650, '南'], [717, '東'], [858, '西'],
 [972, '北'], [1114, '南'], [1169, '東'], [1316, '西'], [1425, '北'], [1571, '南'], [1612, '東'], [1759, '西']]
  .forEach(p => txt(p[1], 25, p[0], 25, 'center'));
[[67, 155], [242, 350], [522, 628], [737, 843], [988, 1093], [1188, 1293], [1440, 1550], [1630, 1740]]
  .forEach(p => vArrow(24, p[0], p[1], 3.5, 15, 16));
// scale bars
[[112, 170], [354, 413]].forEach(p => vArrow(99, p[0], p[1], 2.5, 10, 11));
[[634, 677], [813, 857], [1089, 1133], [1278, 1322], [1543, 1585], [1723, 1767]].forEach(p => vArrow(100, p[0], p[1], 2.5, 10, 10));
txt('10cm', 112, 145, 29, 'left', NUM); txt('10cm', 112, 387, 29, 'left', NUM);
[[657, '2cm'], [837, '2cm'], [1112, '2cm'], [1302, '2cm'], [1567, '2cm'], [1746, '2cm']].forEach(p => txt(p[1], 111, p[0], 28, 'left', NUM));
// year unit
[445, 888, 1351, 1796].forEach(y => txt('[  年  ]', 1041, y, 24, 'center'));
// notes
txt('2003 年 5 月解析開始', 991, 42, 15, 'right');
txt('連続点：2014年9月24日観測開始', 964, 482, 20, 'right');
txt('連続点：2014年9月25日観測開始', 964, 936, 20, 'right');
txt('積雪の影響', 894, 253, 27, 'center');
txt('＊', 1027, 62, 22, 'center');
txt('1', 1055, 66, 28, 'center', NUM);
// snow callout arrows
pArrow(928.9, 230, 926.5, 133, 13, 15);
pArrow(952.3, 223, 949.9, 133, 13, 15);
pArrow(928.9, 277, 926.5, 332, 13, 15);
pArrow(952.3, 277, 952.3, 348, 13, 15);
// split line of 磯部跡 panel
G.push({ type: 'line', z: 99, silent: true, shape: { x1: 81, y1: 1587, x2: 1008, y2: 1587 }, style: { stroke: '#000', lineWidth: 1.2 } });
// brown dashed frame (*1)
G.push({ type: 'rect', z: 101, silent: true, shape: { x: 971, y: 48, width: 39, height: 1727 },
  style: { fill: 'none', stroke: '#b45a14', lineWidth: 3.5, lineDash: [14, 8] } });

chart.setOption({
  animation: false,
  backgroundColor: '#fff',
  grid: grids,
  xAxis: grids.map((g, i) => xAx(i)),
  yAxis: grids.map((g, i) => yAx(i)),
  series: series,
  graphic: { elements: G }
});
</script>
</body>
</html>
